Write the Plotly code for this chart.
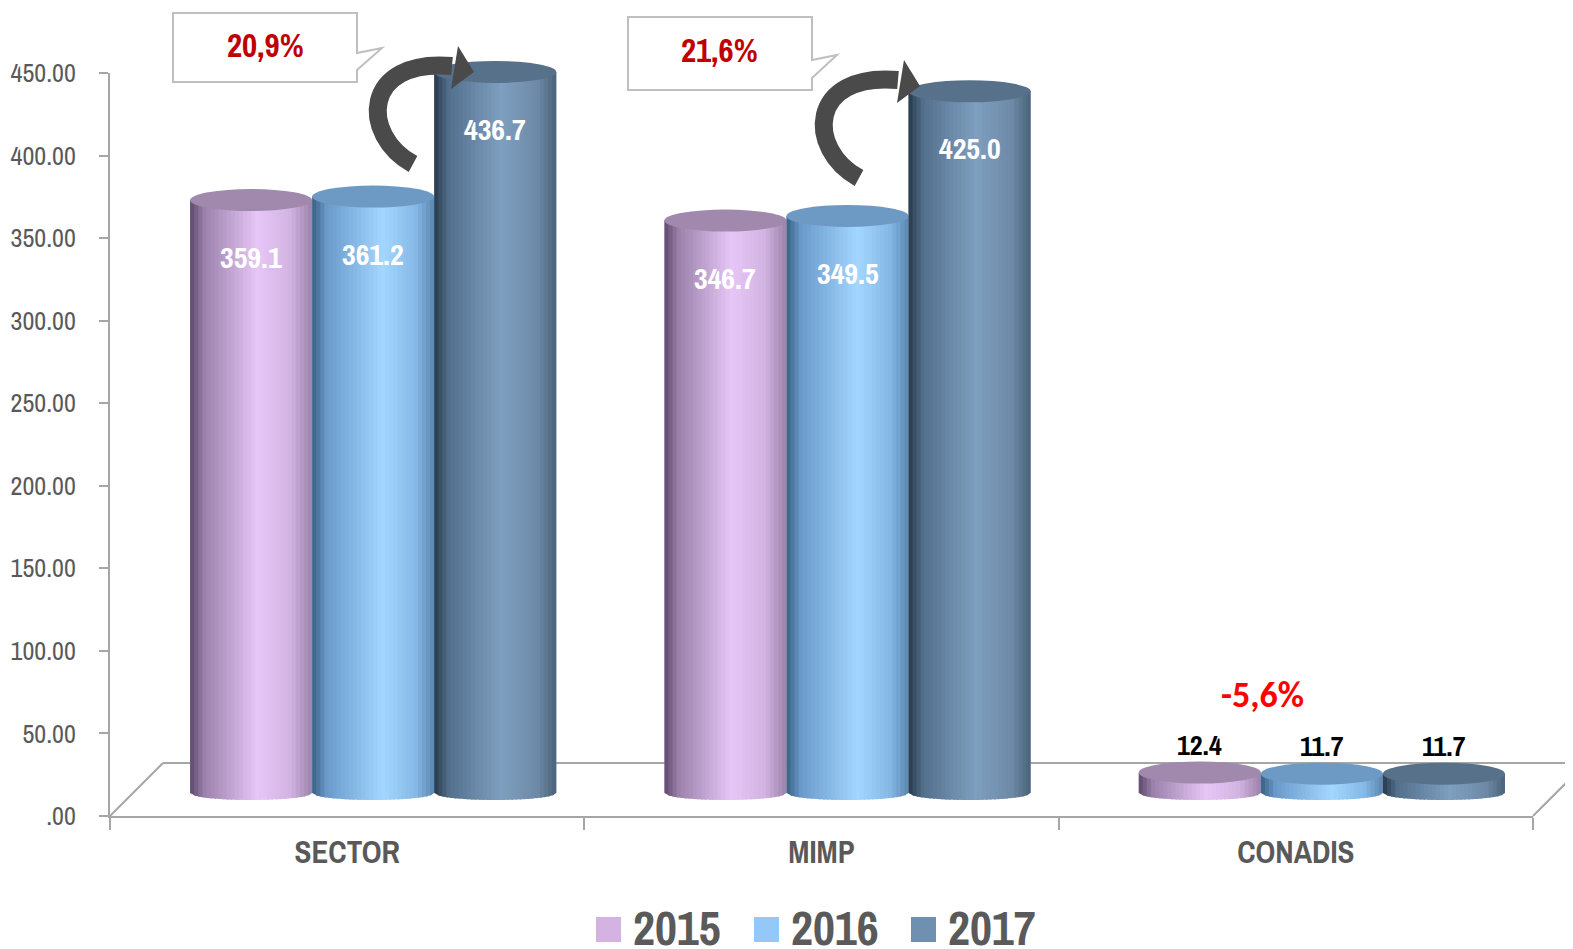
import plotly.graph_objects as go

# ---------------- data ----------------
categories = ["SECTOR", "MIMP", "CONADIS"]
years = ["2015", "2016", "2017"]
values_2015 = [359.1, 346.7, 12.4]
values_2016 = [361.2, 349.5, 11.7]
values_2017 = [436.7, 425.0, 11.7]
y_tick_values = [0, 50, 100, 150, 200, 250, 300, 350, 400, 450]
y_tick_labels = [".00", "50.00", "100.00", "150.00", "200.00", "250.00",
                 "300.00", "350.00", "400.00", "450.00"]
growth_labels = ["20,9%", "21,6%", "-5,6%"]

series = [values_2015, values_2016, values_2017]

# ---------------- styles ----------------
# the page body has an 8px margin: work in page pixels and convert
OFF = 8
W, H = 1573 - OFF, 949 - OFF
PLOT_LEFT, PLOT_RIGHT, PLOT_TOP, PLOT_BOTTOM = 110, 1559, 30, 816   # page px
L = PLOT_LEFT - OFF
R = W - (PLOT_RIGHT - OFF)
T = PLOT_TOP - OFF
B = H - (PLOT_BOTTOM - OFF)
PW, PH = W - L - R, H - T - B

NARROW = "Liberation Sans Narrow, Arial Narrow, Archivo Narrow, Asap Condensed, sans-serif"
CALIBRI = "Carlito, Calibri, Lato, sans-serif"
GRAY = "#595959"
AXIS = "#a6a6a6"

legend_colors = ["#d4b3e2", "#94c8f8", "#7090b0"]
top_colors = ["#a189ad", "#6d9ac4", "#57718a"]
gradients = [
    [(0.0, "#5f4a6c"), (0.12, "#9c82ac"), (0.55, "#e6c6f6"), (0.82, "#d2b4e2"), (1.0, "#9c82aa")],
    [(0.0, "#3a5f80"), (0.12, "#6a9acb"), (0.58, "#a3d6ff"), (0.85, "#86b8e6"), (1.0, "#5a86ae")],
    [(0.0, "#27394a"), (0.12, "#53708c"), (0.55, "#7f9fc0"), (0.85, "#6d89a6"), (1.0, "#4b627a")],
]

Y_SCALE = 743 / 450.0          # px per unit
Y2_ZERO_PX = 793               # page y where the cylinders stand
Y2_MIN = -12
BARGAP = 0.228
TOP_HALF_PX = 11
BOT_HALF_PX = 7


def pxx(x):
    """page x pixel -> paper fraction"""
    return (x - PLOT_LEFT) / PW


def pxy(y):
    """page y pixel -> paper fraction"""
    return (PLOT_BOTTOM - y) / PH


def hex2rgb(h):
    h = h.lstrip("#")
    return tuple(int(h[i:i + 2], 16) for i in (0, 2, 4))


def grad_color(stops, t):
    for (t0, c0), (t1, c1) in zip(stops[:-1], stops[1:]):
        if t <= t1:
            f = (t - t0) / (t1 - t0) if t1 > t0 else 0
            a, b = hex2rgb(c0), hex2rgb(c1)
            return "rgb(%d,%d,%d)" % tuple(round(a[i] + (b[i] - a[i]) * f) for i in range(3))
    return stops[-1][1]


x_dom = [0, pxx(1533)]
x2_dom = [pxx(136), 1]
y_dom = [0, pxy(73)]
y2_dom = [pxy(Y2_ZERO_PX - Y2_MIN * Y_SCALE), pxy(Y2_ZERO_PX - 450 * Y_SCALE)]

fig = go.Figure()

# invisible trace to set up the visible category axis
fig.add_trace(go.Scatter(x=categories, y=[0, 0, 0], mode="markers",
                         marker=dict(opacity=0), showlegend=False,
                         hoverinfo="skip", xaxis="x", yaxis="y"))

for k, vals in enumerate(series):
    fig.add_trace(go.Bar(x=categories, y=vals, name=years[k],
                         marker=dict(color=legend_colors[k], line=dict(width=0)),
                         xaxis="x2", yaxis="y2", showlegend=False))

shapes = []
annotations = []

# 3D floor
floor = dict(type="line", xref="paper", yref="paper", layer="below",
             line=dict(color=AXIS, width=2))
shapes.append({**floor, "x0": pxx(163), "y0": pxy(763), "x1": pxx(1600), "y1": pxy(763)})
shapes.append({**floor, "x0": pxx(110), "y0": pxy(816), "x1": pxx(163), "y1": pxy(763)})
shapes.append({**floor, "x0": pxx(1533), "y0": pxy(816), "x1": pxx(1600), "y1": pxy(749)})

# cylinders (shading overlay computed from the data)
bw = (1 - BARGAP) / 3
hw = bw / 2
ht = TOP_HALF_PX / Y_SCALE
hb = BOT_HALF_PX / Y_SCALE
N = 30
dx = bw / N
for k, vals in enumerate(series):
    for i, v in enumerate(vals):
        c = i + (k - 1) * bw

        def yb(x):
            u = (x - c) / hw
            return -hb * max(0.0, 1 - u * u) ** 0.5

        for j in range(N):
            xa = c - hw + j * dx
            xb = min(xa + dx * 1.4, c + hw)
            path = "M%.5f,%.4f L%.5f,%.4f L%.5f,%.4f L%.5f,%.4f Z" % (
                xa, yb(xa), xa, v, xb, v, xb, yb(xb))
            shapes.append(dict(type="path", xref="x2", yref="y2", path=path,
                               fillcolor=grad_color(gradients[k], (j + 0.5) / N),
                               line=dict(width=0), layer="above"))
        shapes.append(dict(type="circle", xref="x2", yref="y2",
                           x0=c - hw, x1=c + hw, y0=v - ht, y1=v + ht,
                           fillcolor=top_colors[k], line=dict(width=0), layer="above"))
        if v > 50:
            annotations.append(dict(x=c, y=v, xref="x2", yref="y2", text="<b>%.1f</b>" % v,
                                    showarrow=False, yshift=-57, xanchor="center", yanchor="middle",
                                    font=dict(family=NARROW, size=30, color="white")))
        else:
            annotations.append(dict(x=c, y=v, xref="x2", yref="y2", text="<b>%.1f</b>" % v,
                                    showarrow=False, yshift=28, xanchor="center", yanchor="middle",
                                    font=dict(family=NARROW, size=28, color="black")))


def P(pts):
    s = ""
    for cmd, x, y in pts:
        s += "%s%.5f,%.5f " % (cmd, pxx(x), pxy(y))
    return s + "Z"


# callouts
callouts = [
    ((173, 13, 357, 82), (53, 382, 48, 70), growth_labels[0], (265, 45)),
    ((628, 17, 812, 90), (60, 837, 55, 78), growth_labels[1], (719, 50)),
]
for (x0, y0, x1, y1), (ta, tx, ty, tb), txt, (cx, cy) in callouts:
    path = P([("M", x0, y0), ("L", x1, y0), ("L", x1, ta), ("L", tx, ty),
              ("L", x1, tb), ("L", x1, y1), ("L", x0, y1)])
    shapes.append(dict(type="path", xref="paper", yref="paper", path=path,
                       fillcolor="white", line=dict(color="#bfbfbf", width=2), layer="above"))
    annotations.append(dict(x=pxx(cx), y=pxy(cy), xref="paper", yref="paper",
                            xanchor="center", yanchor="middle",
                            text="<b>%s</b>" % txt, showarrow=False,
                            font=dict(family=NARROW, size=33, color="#c00000")))

# curved arrows
for sx, sy in [(0, 0), (446, 14)]:
    curve = "M%.5f,%.5f C%.5f,%.5f %.5f,%.5f %.5f,%.5f" % (
        pxx(413 + sx), pxy(164 + sy), pxx(360 + sx), pxy(135 + sy),
        pxx(362 + sx), pxy(58 + sy), pxx(452 + sx), pxy(66 + sy))
    shapes.append(dict(type="path", xref="paper", yref="paper", path=curve,
                       fillcolor="rgba(0,0,0,0)", line=dict(color="#4a4a4a", width=18),
                       layer="above"))
    head = P([("M", 458 + sx, 46 + sy), ("L", 474 + sx, 72 + sy), ("L", 451 + sx, 89 + sy)])
    shapes.append(dict(type="path", xref="paper", yref="paper", path=head,
                       fillcolor="#4a4a4a", line=dict(width=0), layer="above"))

annotations.append(dict(x=pxx(1262), y=pxy(695), xref="paper", yref="paper",
                        xanchor="center", yanchor="middle",
                        text="<b>%s</b>" % growth_labels[2], showarrow=False,
                        font=dict(family=CALIBRI, size=36, color="#ff0000")))

# manual legend
legend_pos = [596, 754, 911]
for k, lx in enumerate(legend_pos):
    shapes.append(dict(type="rect", xref="paper", yref="paper",
                       x0=pxx(lx), x1=pxx(lx + 25), y0=pxy(942), y1=pxy(917),
                       fillcolor=legend_colors[k], line=dict(width=0)))
    annotations.append(dict(x=pxx(lx + 35), y=pxy(927), xref="paper", yref="paper",
                            xanchor="left", yanchor="middle", text="<b>%s</b>" % years[k],
                            showarrow=False,
                            font=dict(family=NARROW, size=48, color="#5a5a5a")))

fig.update_layout(
    width=W, height=H,
    margin=dict(l=L, r=R, t=T, b=B, autoexpand=False),
    paper_bgcolor="white", plot_bgcolor="rgba(0,0,0,0)",
    barmode="group", bargap=BARGAP, bargroupgap=0,
    showlegend=False,
    shapes=shapes, annotations=annotations,
    xaxis=dict(type="category", categoryorder="array", categoryarray=categories,
               range=[-0.5, 2.5], domain=x_dom, anchor="y", automargin=False,
               tickson="boundaries", ticks="outside", ticklen=12, tickwidth=2,
               tickcolor=AXIS, showline=True, linecolor=AXIS, linewidth=2,
               showgrid=False, zeroline=False, ticklabelstandoff=8,
               tickfont=dict(family=NARROW, size=31, color=GRAY, weight="bold")),
    yaxis=dict(range=[0, 450], domain=y_dom, anchor="x", automargin=False,
               tickmode="array", tickvals=y_tick_values, ticktext=y_tick_labels,
               ticks="outside", ticklen=9, tickwidth=2, tickcolor=AXIS,
               showline=True, linecolor=AXIS, linewidth=2,
               showgrid=False, zeroline=False, ticklabelstandoff=18,
               tickfont=dict(family=NARROW, size=26, color=GRAY)),
    xaxis2=dict(type="category", categoryorder="array", categoryarray=categories,
                range=[-0.5, 2.5], domain=x2_dom, anchor="y2", visible=False),
    yaxis2=dict(range=[Y2_MIN, 450], domain=y2_dom, anchor="x2", visible=False),
)

fig.write_html("out.html")
